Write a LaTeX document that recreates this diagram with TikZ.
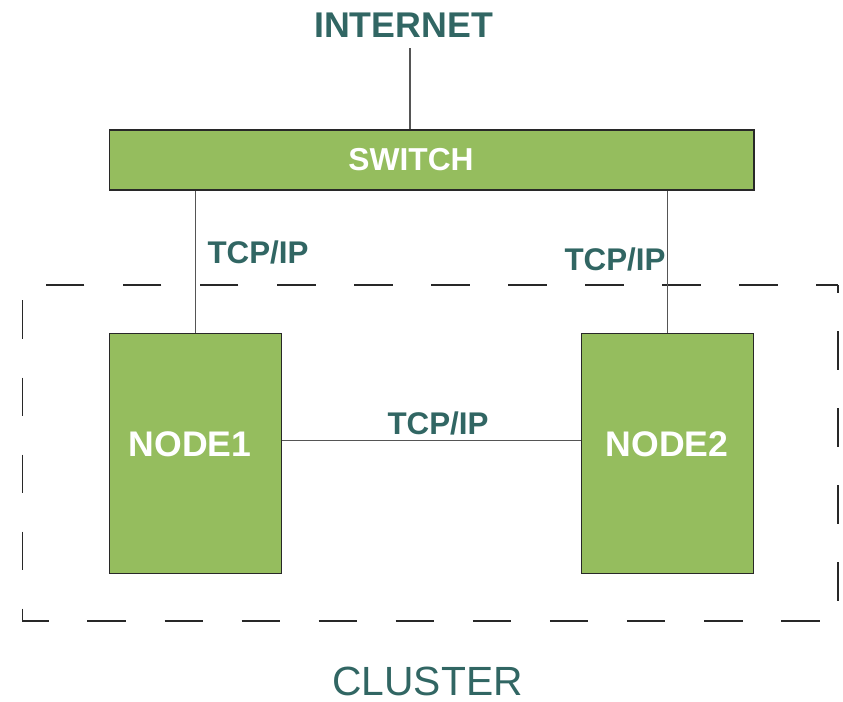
\documentclass[tikz,border=0pt]{standalone}
\usepackage{fontspec}
\setmainfont{Liberation Sans}
\definecolor{boxgreen}{RGB}{149,189,94}
\definecolor{tealtext}{RGB}{49,102,99}
\definecolor{edge}{RGB}{40,40,40}
\definecolor{wire}{RGB}{85,85,85}
\begin{document}
\begin{tikzpicture}[x=0.75pt,y=-0.75pt,
  greenbox/.style={draw=edge,line width=1.1pt,fill=boxgreen,inner sep=0pt,anchor=north west},
  boxtext/.style={text=white,font=\bfseries,anchor=base,inner sep=0pt},
  linktext/.style={text=tealtext,font=\bfseries\fontsize{23.5}{26}\selectfont,anchor=base,inner sep=0pt},
  wireline/.style={draw=wire,line width=0.8pt},
  clusterline/.style={draw=edge,line width=1.1pt,dash pattern=on 28.9pt off 28.9pt,dash phase=12.75pt}]
\useasboundingbox (0,0) rectangle (843,701);

% cluster frame
\draw[clusterline] (838,285) -- (22.7,285) -- (22.7,621) -- (838,621) -- cycle;

% boxes
\node[greenbox,minimum width=483.4pt,minimum height=44.8pt] (switch) at (108.5,129.3) {};
\node[greenbox,minimum width=129pt,minimum height=180pt] (node1) at (108.5,333) {};
\node[greenbox,minimum width=129pt,minimum height=180pt] (node2) at (581,333) {};

% box labels
\node[boxtext,font=\bfseries\fontsize{23.8}{26}\selectfont] (switcht) at (411,170) {SWITCH};
\node[boxtext,font=\bfseries\fontsize{26.7}{30}\selectfont] (node1t) at (190,456) {NODE1};
\node[boxtext,font=\bfseries\fontsize{26.7}{30}\selectfont] (node2t) at (667,456) {NODE2};

% titles
\node[text=tealtext,font=\bfseries\fontsize{26.8}{30}\selectfont,anchor=base,inner sep=0pt,text depth=0pt] (internet) at (403.5,37.3) {INTERNET};
\node[text=tealtext,font=\fontsize{30.6}{34}\selectfont,anchor=base,inner sep=0pt,text depth=0pt] (cluster) at (427.5,695) {CLUSTER};
\coordinate (uplink) at (410,48);

% wiring
\draw[wireline] (uplink) -- (uplink |- switch.north);
\draw[wireline] (node1.north) -- (node1.north |- switch.south);
\draw[wireline] (node2.north) -- (node2.north |- switch.south);
\draw[wireline] (node1.east |- 0,440.7) -- (node2.west |- 0,440.7);

% link labels
\node[linktext] (tcpa) at (258,263) {TCP/IP};
\node[linktext] (tcpb) at (615,270) {TCP/IP};
\node[linktext] (tcpc) at (438,434) {TCP/IP};
\end{tikzpicture}
\end{document}
